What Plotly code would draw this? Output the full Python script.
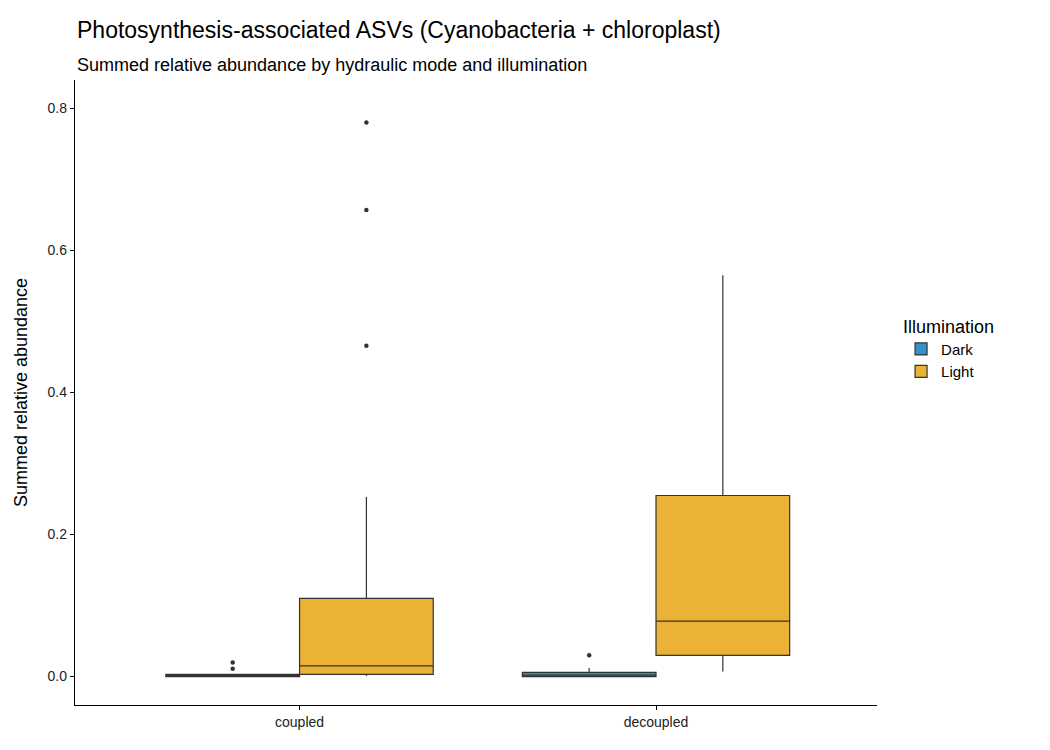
import plotly.graph_objects as go

modes = ["coupled", "decoupled"]
groups = ["Dark", "Light"]
colors = {"Dark": "#3391c7", "Light": "#ebb236"}

# box statistics per (group, mode)
lower = {"Dark": [0.0, 0.0], "Light": [0.001, 0.007]}
q1 = {"Dark": [0.0, 0.0], "Light": [0.003, 0.030]}
median = {"Dark": [0.001, 0.002], "Light": [0.015, 0.078]}
q3 = {"Dark": [0.003, 0.006], "Light": [0.110, 0.255]}
upper = {"Dark": [0.004, 0.012], "Light": [0.253, 0.565]}
outliers = {
    "Dark": [[0.020, 0.011], [0.030]],
    "Light": [[0.466, 0.657, 0.780], []],
}

offsets = {"Dark": -0.1875, "Light": 0.1875}

fig = go.Figure()
for g in groups:
    xs = [i + offsets[g] for i in range(len(modes))]
    fig.add_trace(go.Box(
        x=xs, q1=q1[g], median=median[g], q3=q3[g],
        lowerfence=lower[g], upperfence=upper[g],
        width=0.375, name=g, fillcolor=colors[g], whiskerwidth=0,
        line=dict(color="#333333", width=1.2), boxpoints=False,
        hoverinfo="skip",
    ))
    ox, oy = [], []
    for i, vals in enumerate(outliers[g]):
        ox += [i + offsets[g]] * len(vals)
        oy += vals
    fig.add_trace(go.Scatter(
        x=ox, y=oy, mode="markers", showlegend=False,
        marker=dict(color="#333333", size=4.5),
    ))

axis = dict(showline=True, linecolor="black", linewidth=1.3, ticks="outside",
            tickcolor="black", ticklen=4, showgrid=False, zeroline=False,
            tickfont=dict(size=14, color="#222"))
fig.update_layout(
    width=1034, height=734, plot_bgcolor="white", paper_bgcolor="white",
    font=dict(family="Liberation Sans, Arial", color="black"),
    margin=dict(l=65, r=165, t=72, b=31),
    xaxis=dict(axis, range=[-0.63, 1.62], tickvals=[0, 1], ticktext=modes),
    yaxis=dict(axis, range=[-0.04, 0.84], tickvals=[0, 0.2, 0.4, 0.6, 0.8],
               tickformat=".1f",
               title=dict(text="Summed relative abundance", font=dict(size=18))),
    legend=dict(title=dict(text="Illumination", font=dict(size=18)),
                font=dict(size=15), x=1.03, y=0.57, yanchor="middle",
                tracegroupgap=4),
    annotations=[
        dict(text="Photosynthesis-associated ASVs (Cyanobacteria + chloroplast)",
             xref="paper", yref="paper", x=0, y=1, yshift=50, xanchor="left",
             yanchor="middle", showarrow=False, font=dict(size=23)),
        dict(text="Summed relative abundance by hydraulic mode and illumination",
             xref="paper", yref="paper", x=0, y=1, yshift=15, xanchor="left",
             yanchor="middle", showarrow=False, font=dict(size=18)),
    ],
)

fig.write_html("out.html")
